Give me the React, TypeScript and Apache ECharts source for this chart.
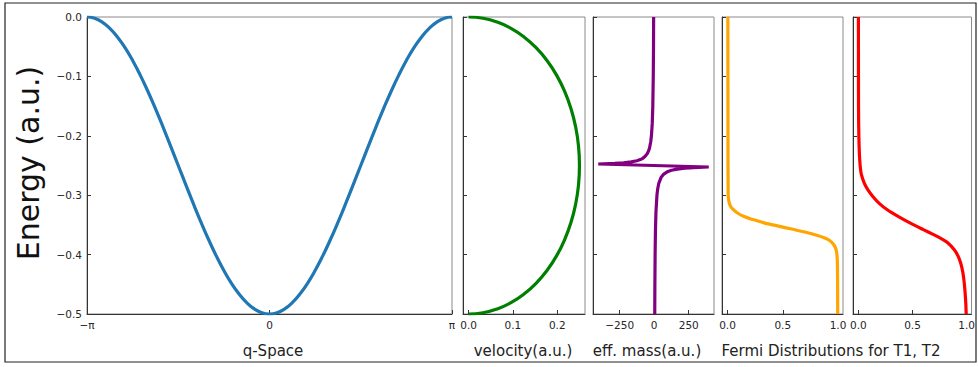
import React, { useEffect, useRef } from 'react';
import * as echarts from 'echarts';

// q-Space in units of pi, band energy E(q)
const qOverPi = [
  -1, -0.9583, -0.9167, -0.875, -0.8333, -0.7917, -0.75, -0.7083, -0.6667, -0.625, -0.5833, -0.5417,
  -0.5, -0.4583, -0.4167, -0.375, -0.3333, -0.2917, -0.25, -0.2083, -0.1667, -0.125, -0.0833, -0.0417,
  0, 0.0417, 0.0833, 0.125, 0.1667, 0.2083, 0.25, 0.2917, 0.3333, 0.375, 0.4167, 0.4583, 0.5,
  0.5417, 0.5833, 0.625, 0.6667, 0.7083, 0.75, 0.7917, 0.8333, 0.875, 0.9167, 0.9583, 1,
];
const bandEnergy = [
  0, -0.0021, -0.0085, -0.019, -0.0335, -0.0516, -0.0732, -0.0978, -0.125, -0.1543, -0.1853, -0.2174,
  -0.25, -0.2826, -0.3147, -0.3457, -0.375, -0.4022, -0.4268, -0.4484, -0.4665, -0.481, -0.4915, -0.4979,
  -0.5, -0.4979, -0.4915, -0.481, -0.4665, -0.4484, -0.4268, -0.4022, -0.375, -0.3457, -0.3147, -0.2826, -0.25,
  -0.2174, -0.1853, -0.1543, -0.125, -0.0978, -0.0732, -0.0516, -0.0335, -0.019, -0.0085, -0.0021, 0,
];

// velocity vs energy
const velocity = [
  0, 0.0326, 0.0647, 0.0957, 0.125, 0.1522, 0.1768, 0.1984, 0.2165, 0.231, 0.2415, 0.2479, 0.25,
  0.2479, 0.2415, 0.231, 0.2165, 0.1984, 0.1768, 0.1522, 0.125, 0.0957, 0.0647, 0.0326, 0,
];
const velocityEnergy = [
  0, -0.0021, -0.0085, -0.019, -0.0335, -0.0516, -0.0732, -0.0978, -0.125, -0.1543, -0.1853, -0.2174, -0.25,
  -0.2826, -0.3147, -0.3457, -0.375, -0.4022, -0.4268, -0.4484, -0.4665, -0.481, -0.4915, -0.4979, -0.5,
];

// effective mass vs energy
const effMass = [
  -4, -5, -6.7, -10, -14.3, -20, -25, -33.3, -40, -50, -66.7, -83.3, -100, -125, -166.7, -222, -286, -405,
  395, 286, 222, 167, 125, 100, 66.7, 50, 33.3, 25, 20, 12.5, 9.1, 6.7, 5, 4,
];
const effMassEnergy = [
  0, -0.05, -0.1, -0.15, -0.18, -0.2, -0.21, -0.22, -0.225, -0.23, -0.235, -0.238, -0.24, -0.242, -0.244,
  -0.2455, -0.2465, -0.2475, -0.2525, -0.2535, -0.2545, -0.256, -0.258, -0.26, -0.265, -0.27, -0.28, -0.29,
  -0.3, -0.33, -0.36, -0.4, -0.45, -0.5,
];

// Fermi distribution, T1
const fermiT1 = [
  0.003, 0.004, 0.006, 0.012, 0.025, 0.05, 0.09, 0.15, 0.23, 0.34, 0.46, 0.58, 0.7, 0.8, 0.88, 0.93, 0.96,
  0.98, 0.99, 0.995, 0.997,
];
const fermiT1Energy = [
  0, -0.2, -0.3, -0.31, -0.318, -0.324, -0.33, -0.336, -0.341, -0.347, -0.352, -0.357, -0.362, -0.367,
  -0.372, -0.377, -0.383, -0.39, -0.4, -0.42, -0.5,
];

// Fermi distribution, T2
const fermiT2 = [
  0.0, 0.0005, 0.001, 0.004, 0.009, 0.016, 0.027, 0.055, 0.085, 0.135, 0.2, 0.27, 0.37, 0.48, 0.6, 0.69,
  0.765, 0.825, 0.886, 0.922, 0.946, 0.965, 0.978, 0.99, 0.996,
];
const fermiT2Energy = [
  0, -0.1, -0.15, -0.2, -0.23, -0.25, -0.265, -0.28, -0.29, -0.3025, -0.315, -0.325, -0.336, -0.347, -0.358,
  -0.366, -0.373, -0.38, -0.392, -0.403, -0.415, -0.43, -0.448, -0.475, -0.5,
];

const energyTicks = [0, -0.1, -0.2, -0.3, -0.4, -0.5];
const axisTitles = ['q-Space', 'velocity(a.u.)', 'eff. mass(a.u.)', 'Fermi Distributions for T1, T2'];

const pair = (xs: number[], ys: number[]) => xs.map((x, i) => [x, ys[i]]);
const minus = (s: string) => s.replace('-', '\u2212');
const fmt1 = (v: number) => (Math.abs(v) < 1e-9 ? '0.0' : minus(v.toFixed(1)));

export default function App() {
  const ref = useRef<HTMLDivElement>(null);
  useEffect(() => {
    const chart = echarts.init(ref.current!, null, { renderer: 'svg' });
    const FONT = 'DejaVu Sans';
    const TXT = '#262626';
    const grids = [
      { left: 87, top: 17, width: 365, height: 297 },
      { left: 463, top: 17, width: 122, height: 297 },
      { left: 593, top: 17, width: 121, height: 297 },
      { left: 722, top: 17, width: 121, height: 297 },
      { left: 853, top: 17, width: 121, height: 297 },
    ].map((g) => ({ ...g, show: true, borderColor: '#8a8a8a', borderWidth: 1, containLabel: false }));

    const xCfg = [
      { min: -1, max: 1, vals: [-1, 0, 1], fmt: (v: number) => (v < -0.5 ? '\u2212\u03c0' : v > 0.5 ? '\u03c0' : '0') },
      { min: -0.0125, max: 0.2625, vals: [0, 0.1, 0.2], fmt: fmt1 },
      { min: -443, max: 433, vals: [-250, 0, 250], fmt: (v: number) => minus(String(Math.round(v))) },
      { min: -0.05, max: 1.045, vals: [0, 0.5, 1], fmt: fmt1 },
      { min: -0.05, max: 1.045, vals: [0, 0.5, 1], fmt: fmt1 },
    ];

    const xAxis = xCfg.map((c, i) => ({
      type: 'value',
      gridIndex: i,
      min: c.min,
      max: c.max,
      axisLine: { show: true, onZero: false, lineStyle: { color: '#333', width: 1 } },
      axisTick: { show: true, inside: true, length: 4, customValues: c.vals, lineStyle: { color: '#333' } },
      axisLabel: {
        show: true,
        customValues: c.vals,
        formatter: c.fmt,
        fontSize: 10.5,
        fontFamily: FONT,
        color: TXT,
        margin: 5,
        showMinLabel: true,
        showMaxLabel: true,
      },
      splitLine: { show: false },
    }));

    const yAxis = xCfg.map((_, i) => ({
      type: 'value',
      gridIndex: i,
      min: -0.5,
      max: 0,
      axisLine: { show: true, onZero: false, lineStyle: { color: '#333', width: 1 } },
      axisTick: { show: true, inside: true, length: 4, customValues: energyTicks, lineStyle: { color: '#333' } },
      axisLabel: {
        show: i === 0,
        customValues: energyTicks,
        formatter: fmt1,
        fontSize: 10.5,
        fontFamily: FONT,
        color: TXT,
        margin: 5,
      },
      splitLine: { show: false },
    }));

    const line = (i: number, data: number[][], color: string, smooth: boolean | number) => ({
      type: 'line',
      xAxisIndex: i,
      yAxisIndex: i,
      data,
      smooth,
      showSymbol: false,
      symbol: 'none',
      clip: true,
      lineStyle: { color, width: 3.2 },
      emphasis: { disabled: true },
    });

    const titleX = [273, 523, 647, 831];
    const graphic: any[] = [
      {
        type: 'rect',
        shape: { x: 5, y: 3, width: 971, height: 359 },
        style: { fill: 'none', stroke: '#222', lineWidth: 1.2 },
        silent: true,
      },
      {
        type: 'text',
        x: 28,
        y: 163,
        rotation: Math.PI / 2,
        style: {
          text: 'Energy (a.u.)',
          fontSize: 30,
          fontFamily: FONT,
          fill: '#111',
          align: 'center',
          verticalAlign: 'middle',
        },
      },
      ...axisTitles.map((t, i) => ({
        type: 'text',
        x: titleX[i],
        y: 351,
        style: {
          text: t,
          fontSize: 15,
          fontFamily: FONT,
          fill: '#222',
          align: 'center',
          verticalAlign: 'middle',
        },
      })),
    ];

    chart.setOption({
      animation: false,
      backgroundColor: '#ffffff',
      grid: grids,
      xAxis,
      yAxis,
      series: [
        line(0, pair(qOverPi, bandEnergy), '#1f77b4', true),
        line(1, pair(velocity, velocityEnergy), '#008000', true),
        line(2, pair(effMass, effMassEnergy), '#800080', false),
        line(3, pair(fermiT1, fermiT1Energy), '#ffa500', 0.3),
        line(4, pair(fermiT2, fermiT2Energy), '#ff0000', 0.3),
      ],
      graphic,
    });
    return () => chart.dispose();
  }, []);
  return (
    <div
      ref={ref}
      style={{ position: 'fixed', left: 0, top: 0, width: 978, height: 367, background: '#fff' }}
    />
  );
}
